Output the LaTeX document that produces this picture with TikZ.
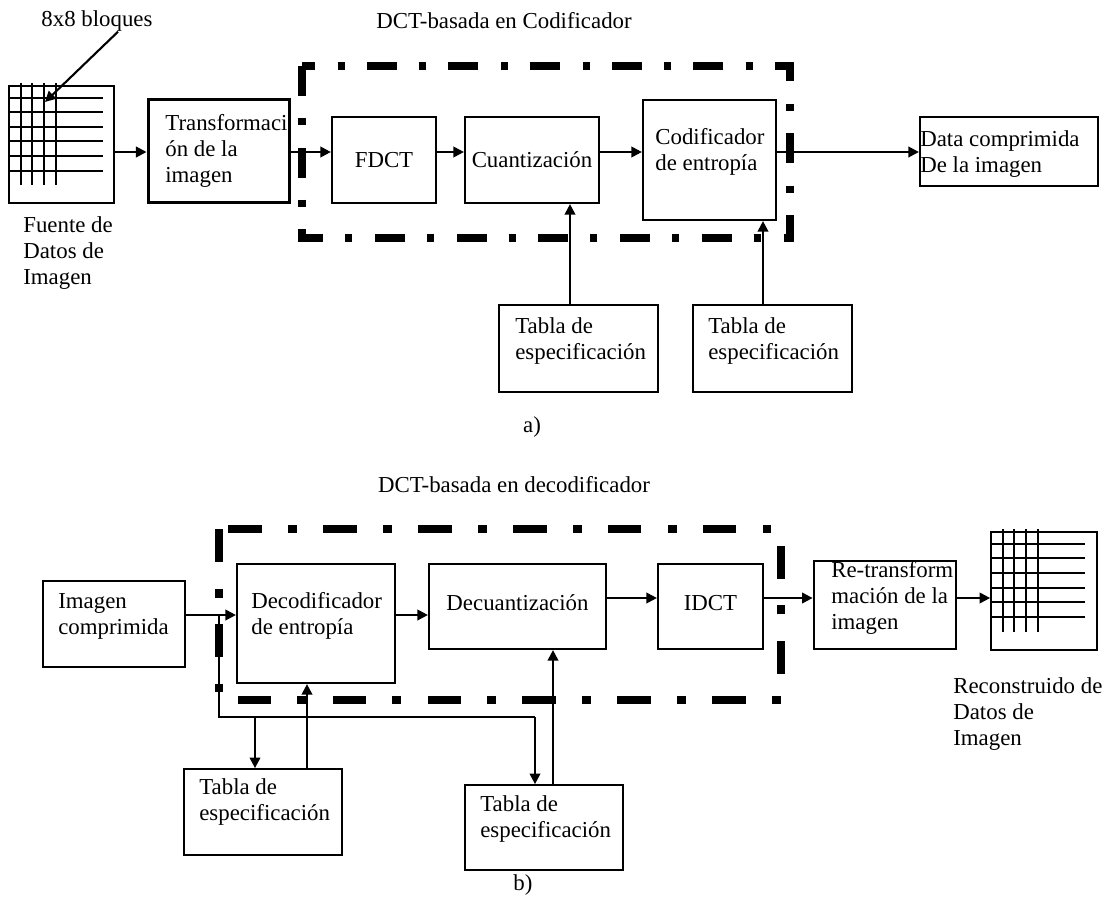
\documentclass[tikz,border=0pt]{standalone}
\usepackage{fontspec}
\setmainfont{Liberation Serif}
\usetikzlibrary{arrows.meta, positioning, calc}

\begin{document}
\begin{tikzpicture}[
    x=0.02cm, y=-0.02cm,
    font=\fontsize{13pt}{14.8pt}\selectfont,
    box/.style={rectangle, draw, line width=1.25pt, inner sep=0pt},
    txt/.style={inner sep=0pt, align=left, anchor=west},
    arrow/.style={-{Triangle[length=6pt, width=6pt]}, line width=1.2pt},
    gridline/.style={line width=1pt},
    dctboxA/.style={line width=4.6pt, dash pattern=on 17pt off 12.5pt on 4pt off 13pt},
    dctboxB/.style={line width=4.6pt, dash pattern=on 19pt off 15pt on 5pt off 15pt},
]
\useasboundingbox (0,0) rectangle (1110,903);

% ---- a) encoder ----
\node[txt, anchor=center] (blk) at (97,21) {8x8 bloques};
\node[txt, anchor=center] (titA) at (504,21) {DCT-basada en Codificador};

\node[box, line width=1pt, minimum width=2.1cm, minimum height=2.34cm] (src) at (61.5,144.5) {};
\foreach \gx in {21,32,44,56} \draw[gridline] (\gx,83) -- (\gx,185);
\foreach \gy in {98,112,127,141,156,171} \draw[gridline] (9,\gy) -- (103,\gy);
\coordinate (cell) at (45,102);
\draw[arrow] ([xshift=0.42cm]blk.south) -- (cell);
\node[txt] (srclbl) at (23,253) {Fuente de\\Datos de\\Imagen};

\draw[dctboxA] (302,66) rectangle (790,238);

\node[box, line width=1.7pt, minimum width=2.84cm, minimum height=2.08cm] (trans) at (219,151) {};
\node[txt] (translbl) at (165,151) {Transformaci\\ón de la\\imagen};
\node[box, minimum width=2.08cm, minimum height=1.72cm] (fdct) at (384,160) {FDCT};
\node[box, minimum width=2.68cm, minimum height=1.72cm] (cuant) at (532,160) {Cuantización};
\node[box, minimum width=2.66cm, minimum height=2.4cm] (codif) at (709.5,160) {};
\node[txt] (codiflbl) at (655,152) {Codificador\\de entropía};
\node[box, minimum width=3.56cm, minimum height=1.38cm] (data) at (1009,151.5) {};
\node[txt] (datalbl) at (920,154) {Data comprimida\\De la imagen};

\node[box, minimum width=3.18cm, minimum height=1.74cm] (tabA1) at (578.5,348.5) {};
\node[txt] (tabA1lbl) at (515,341) {Tabla de\\especificación};
\node[box, minimum width=3.18cm, minimum height=1.74cm] (tabA2) at (772.5,348.5) {};
\node[txt] (tabA2lbl) at (708,341) {Tabla de\\especificación};
\node[txt, anchor=center] (capA) at (532,427) {a)};

\coordinate (rowA) at (0,152);
\draw[arrow] (src.east |- rowA) -- (trans.west |- rowA);
\draw[arrow] (trans.east |- rowA) -- (fdct.west |- rowA);
\draw[arrow] (fdct.east |- rowA) -- (cuant.west |- rowA);
\draw[arrow] (cuant.east |- rowA) -- (codif.west |- rowA);
\draw[arrow] (codif.east |- rowA) -- (data.west |- rowA);
\draw[arrow] ([xshift=-0.17cm]tabA1.north) -- ([xshift=-0.17cm]tabA1.north |- cuant.south);
\draw[arrow] ([xshift=-0.19cm]tabA2.north) -- ([xshift=-0.19cm]tabA2.north |- codif.south);

% ---- b) decoder ----
\node[txt, anchor=center] (titB) at (514,485) {DCT-basada en decodificador};

\draw[dctboxB] (219,529) rectangle (781,700);

\node[box, line width=1pt, minimum width=2.84cm, minimum height=1.72cm] (imgc) at (114,624) {};
\node[txt] (imgclbl) at (58,616) {Imagen\\comprimida};
\node[box, minimum width=3.16cm, minimum height=2.38cm] (decod) at (316,623.5) {};
\node[txt] (decodlbl) at (251,616) {Decodificador\\de entropía};
\node[box, minimum width=3.54cm, minimum height=1.7cm] (decuant) at (517.5,606.5) {};
\node[txt, anchor=center] (decuantlbl) at (517.5,603) {Decuantización};
\node[box, minimum width=2.1cm, minimum height=1.7cm] (idct) at (710.5,606.5) {};
\node[txt, anchor=center] (idctlbl) at (710.5,603) {IDCT};
\node[box, line width=1.6pt, minimum width=2.84cm, minimum height=1.76cm] (retr) at (885,605) {};
\node[txt] (retrlbl) at (831,598) {Re-transform\\mación de la\\imagen};

\node[box, line width=1pt, minimum width=2.12cm, minimum height=2.36cm] (dst) at (1044,591) {};
\foreach \gx in {1003,1014,1026,1038} \draw[gridline] (\gx,529) -- (\gx,632);
\foreach \gy in {544,558,573,588,602,617} \draw[gridline] (991,\gy) -- (1085,\gy);
\node[txt] (dstlbl) at (953,714) {Reconstruido de\\Datos de\\Imagen};

\node[box, line width=1pt, minimum width=3.16cm, minimum height=1.72cm] (tabB1) at (263,812) {};
\node[txt] (tabB1lbl) at (199,802) {Tabla de\\especificación};
\node[box, line width=1pt, minimum width=3.16cm, minimum height=1.7cm] (tabB2) at (544,827.5) {};
\node[txt] (tabB2lbl) at (480,819) {Tabla de\\especificación};
\node[txt, anchor=center] (capB) at (523,885) {b)};

\coordinate (rowB1) at (0,615);
\coordinate (rowB2) at (0,598);
\draw[arrow] (imgc.east |- rowB1) -- (decod.west |- rowB1);
\draw[arrow] (decod.east |- rowB1) -- (decuant.west |- rowB1);
\draw[arrow] (decuant.east |- rowB2) -- (idct.west |- rowB2);
\draw[arrow] (idct.east |- rowB2) -- (retr.west |- rowB2);
\draw[arrow] (retr.east |- rowB2) -- (dst.west |- rowB2);

\coordinate (jn) at (219,615);
\coordinate (busL) at (255,717);
\coordinate (busR) at (535,717);
\draw[line width=1.2pt] (jn) |- (busR);
\draw[arrow] (busR) -- (busR |- tabB2.north);
\draw[arrow] (busL) -- (busL |- tabB1.north);
\draw[arrow] ([xshift=0.88cm]tabB1.north) -- ([xshift=0.88cm]tabB1.north |- decod.south);
\draw[arrow] ([xshift=0.18cm]tabB2.north) -- ([xshift=0.18cm]tabB2.north |- decuant.south);

\end{tikzpicture}
\end{document}
